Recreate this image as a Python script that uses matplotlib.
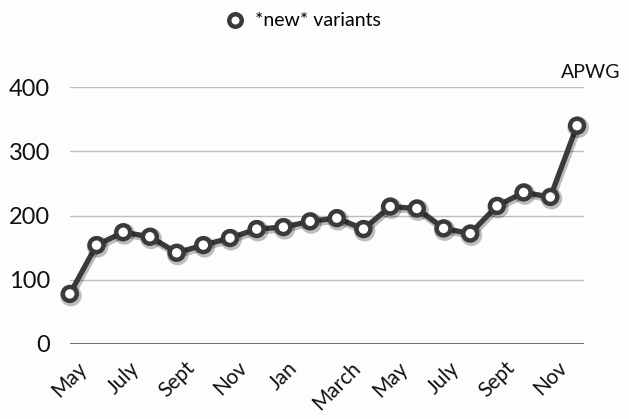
import matplotlib
matplotlib.use("Agg")
import matplotlib.pyplot as plt
import matplotlib.patheffects as pe

plt.rcParams['font.family'] = ['Lato', 'DejaVu Sans']

months = ["May", "June", "July", "Aug", "Sept", "Oct", "Nov", "Dec", "Jan", "Feb",
          "March", "April", "May", "June", "July", "Aug", "Sept", "Oct", "Nov", "Dec"]
values = [78, 154, 174, 167, 142, 154, 165, 179, 182, 191,
          196, 179, 214, 211, 180, 172, 215, 236, 229, 340]
tick_labels = ["May", "July", "Sept", "Nov", "Jan", "March", "May", "July", "Sept", "Nov"]
yticks = [0, 100, 200, 300, 400]
series_name = "*new* variants"

fig = plt.figure(figsize=(6.29, 4.19), dpi=100)
fig.patch.set_facecolor("#fdfdfd")
ax = fig.add_axes([0.111, 0.179, 0.817, 0.613])
ax.set_facecolor("#fdfdfd")

x = list(range(len(values)))
ax.plot(x, values, color="#3a3a3a", lw=3.8, marker="o", markersize=10,
        markerfacecolor="white", markeredgecolor="#3a3a3a", markeredgewidth=3.2,
        clip_on=False, zorder=5, label=series_name,
        path_effects=[pe.SimpleLineShadow(offset=(0.8, -1.2), shadow_color="#000000",
                                          alpha=0.25, linewidth=5.5),
                      pe.Normal()])

ax.set_xlim(0, 19.25)
ax.set_ylim(0, 400)
ax.set_yticks(yticks)
ax.set_yticklabels([str(v) for v in yticks], fontsize=17, color="#111111")
for v in yticks[1:]:
    ax.axhline(v, color="#bdbdbd", lw=1.0, zorder=1)
ax.axhline(0, color="#555555", lw=1.2, zorder=1)

ax.set_xticks(x[::2])
ax.set_xticklabels(tick_labels, rotation=45, ha="center", va="top",
                   fontsize=15, color="#111111")
ax.tick_params(axis="x", length=0, pad=10)
ax.tick_params(axis="y", length=0, pad=14)
for s in ax.spines.values():
    s.set_visible(False)

leg = fig.legend(loc="center left", bbox_to_anchor=(0.33, 0.95), frameon=False,
                 fontsize=14, handlelength=1.0, handletextpad=0.55, markerscale=0.9)
for h in leg.legend_handles:
    h.set_linestyle("none")
    h.set_path_effects([])

fig.text(0.987, 0.828, "APWG", ha="right", va="center", fontsize=14, color="#111111")

fig.savefig("out.png", dpi=100, facecolor=fig.get_facecolor())
